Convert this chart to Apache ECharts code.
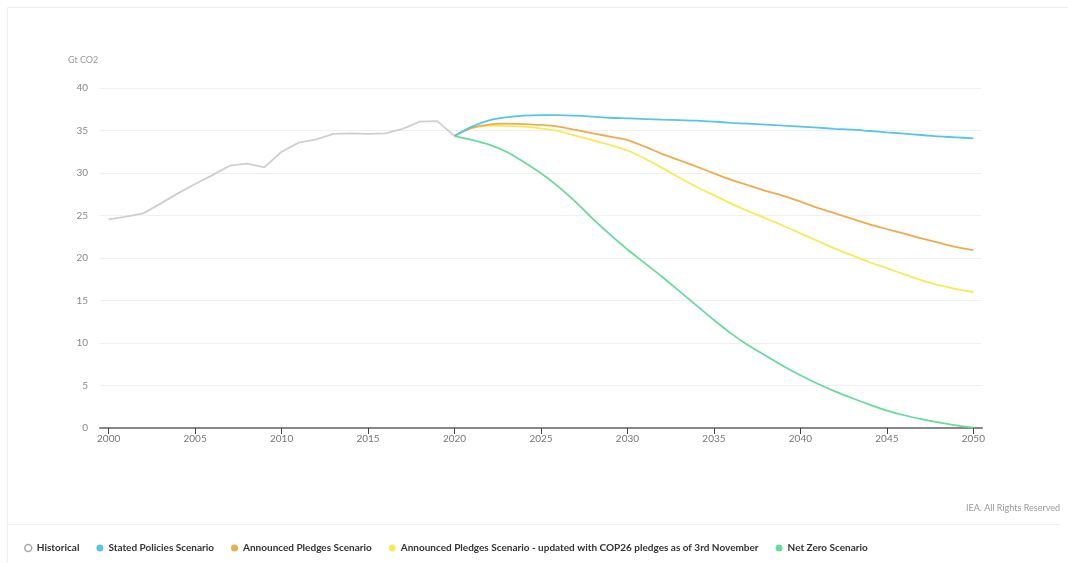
<!DOCTYPE html>
<html>
<head>
<meta charset="utf-8">
<script src="https://cdn.jsdelivr.net/npm/echarts@6/dist/echarts.min.js"></script>
<style>
html,body{margin:0;padding:0;background:#fff;}
#chart{width:1068px;height:563px;}
</style>
</head>
<body>
<div id="chart"></div>
<script>
const years = [];
for (let y = 2000; y <= 2050; y++) years.push(String(y));

const historical = [24.55,24.86,25.25,26.4,27.6,28.7,29.75,30.86,31.1,30.67,32.5,33.57,33.96,34.6,34.67,34.6,34.67,35.2,36.05,36.1,34.35];

// 2020..2050
const statedPolicies = [34.35,35.45,36.2,36.55,36.75,36.82,36.82,36.75,36.63,36.5,36.43,36.35,36.27,36.23,36.16,36.04,35.9,35.8,35.7,35.57,35.45,35.33,35.2,35.1,34.94,34.78,34.63,34.47,34.3,34.2,34.08];
const announcedPledges = [34.35,35.3,35.7,35.8,35.75,35.65,35.45,35.06,34.67,34.27,33.88,33.1,32.25,31.5,30.74,29.96,29.2,28.55,27.9,27.3,26.63,25.9,25.25,24.6,23.96,23.4,22.86,22.3,21.8,21.3,20.9];
const apsCop26 = [34.35,35.3,35.55,35.55,35.45,35.25,34.94,34.4,33.84,33.3,32.65,31.7,30.6,29.45,28.35,27.4,26.4,25.5,24.67,23.8,22.9,22.0,21.1,20.3,19.5,18.8,18.08,17.4,16.8,16.35,16.0];
const netZero = [34.35,33.9,33.35,32.5,31.3,29.96,28.4,26.6,24.6,22.75,21.0,19.4,17.8,16.1,14.4,12.7,11.1,9.7,8.5,7.3,6.2,5.2,4.3,3.5,2.75,2.05,1.5,1.05,0.65,0.3,0.05];

const yTicks = [0,5,10,15,20,25,30,35,40];

function padFrom2020(arr){
  const out = new Array(20).fill(null);
  return out.concat(arr);
}
function histFull(arr){
  return arr.concat(new Array(years.length - arr.length).fill(null));
}

const names = ['Historical','Stated Policies Scenario','Announced Pledges Scenario','Announced Pledges Scenario - updated with COP26 pledges as of 3rd November','Net Zero Scenario'];
const colors = ['#cfcfcf','#55c6ea','#eeac4e','#f6ea55','#66dc9c'];
const dataSets = [histFull(historical), padFrom2020(statedPolicies), padFrom2020(announcedPledges), padFrom2020(apsCop26), padFrom2020(netZero)];

const chart = echarts.init(document.getElementById('chart'));
chart.setOption({
  backgroundColor:'#fff',
  animation:false,
  textStyle:{fontFamily:'Lato, "Open Sans", sans-serif'},
  graphic:[
    {type:'rect',shape:{x:7.5,y:7.5,width:1080,height:600},style:{fill:'none',stroke:'#eeeeee',lineWidth:1},silent:true,z:-1},
    {type:'line',shape:{x1:8,y1:524.5,x2:1060,y2:524.5},style:{stroke:'#eeeeee',lineWidth:1},silent:true},
    {type:'text',left:68,top:56,style:{text:'Gt CO2',fill:'#999',fontSize:9,fontFamily:'Lato, sans-serif'}},
    {type:'text',right:8,top:504,style:{text:'IEA. All Rights Reserved',fill:'#999',fontSize:9,fontFamily:'Lato, sans-serif'}}
  ],
  grid:{left:100,right:86,top:88,bottom:135},
  legend:{
    left:19,top:538,
    icon:'circle',itemWidth:7,itemHeight:7,itemGap:17,
    textStyle:{color:'#333',fontSize:10,fontWeight:'bold',fontFamily:'Lato, sans-serif'},
    data:[
      {name:names[0],itemStyle:{color:'#fff',borderColor:'#aaa',borderWidth:1.5}},
      {name:names[1]},{name:names[2]},{name:names[3]},{name:names[4]}
    ]
  },
  xAxis:{
    type:'category',data:years,boundaryGap:true,
    axisLine:{lineStyle:{color:'#888',width:2}},
    axisTick:{show:true,alignWithLabel:true,interval:4,length:6,lineStyle:{color:'#444',width:1}},
    axisLabel:{interval:4,color:'#777',fontSize:10,margin:6}
  },
  yAxis:{
    type:'value',min:0,max:40,interval:5,
    axisLine:{show:false},axisTick:{show:false},
    splitLine:{lineStyle:{color:'#f0f0f0',width:1}},
    axisLabel:{color:'#888',fontSize:10,margin:12,formatter:v=>yTicks.includes(v)?String(v):''}
  },
  series: dataSets.map((d,i)=>({
    name:names[i],type:'line',data:d,showSymbol:false,symbol:'none',
    smooth: i===0 ? false : 0.3,
    itemStyle:{color:colors[i]},
    lineStyle:{color:colors[i],width:1.8},
    connectNulls:false,
    z: i===0?1:(6-i)
  }))
});
</script>
</body>
</html>
